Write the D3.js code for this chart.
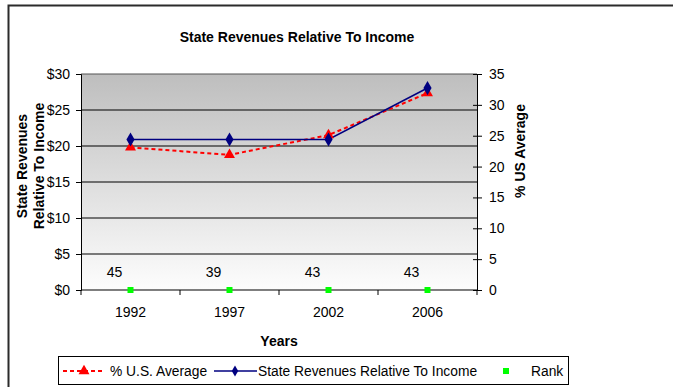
<!DOCTYPE html>
<html><head><meta charset="utf-8">
<script src="https://cdn.jsdelivr.net/npm/d3@7"></script>
<style>
html,body{margin:0;padding:0;background:#fff;}
svg{display:block;font-family:"Liberation Sans",Arial,sans-serif;}
</style></head>
<body><svg id="c" width="673" height="387"></svg>
<script>
const years = ["1992","1997","2002","2006"];
const stateRevenues = [20.9, 20.9, 20.9, 28.05];   // left axis ($)
const pctUSAverage = [23.1, 21.9, 25.1, 31.9];     // right axis
const rankPos = [0, 0, 0, 0];
const rankLabels = ["45","39","43","43"];
const leftTicks = [0,5,10,15,20,25,30];
const rightTicks = [0,5,10,15,20,25,30,35];

const svg = d3.select("#c");
const L = 81, R = 477, T = 74, B = 290;

// outer frame
svg.append("path").attr("d","M8.5,390 L8.5,5.5 L680,5.5")
  .attr("fill","none").attr("stroke","#2b2b2b").attr("stroke-width",2);

// gradient
const defs = svg.append("defs");
const g = defs.append("linearGradient").attr("id","bg").attr("x1",0).attr("y1",0).attr("x2",0).attr("y2",1);
g.append("stop").attr("offset","0%").attr("stop-color","#bebebe");
g.append("stop").attr("offset","100%").attr("stop-color","#fdfdfd");

const x = d3.scaleBand().domain(years).range([L,R]).paddingInner(0).paddingOuter(0);
const yL = d3.scaleLinear().domain([0,30]).range([B,T]);
const yR = d3.scaleLinear().domain([0,35]).range([B,T]);
const cx = d => x(d) + x.bandwidth()/2;

svg.append("rect").attr("x",L).attr("y",T).attr("width",R-L).attr("height",B-T).attr("fill","url(#bg)");

// gridlines
svg.append("g").selectAll("line").data(leftTicks.filter(v=>v>0)).join("line")
  .attr("x1",L).attr("x2",R).attr("y1",d=>yL(d)).attr("y2",d=>yL(d))
  .attr("stroke",d=>d===30?"#555":"#000").attr("stroke-width",1.2);

// left axis
const axL = svg.append("g").attr("transform",`translate(${L},0)`)
  .call(d3.axisLeft(yL).tickValues(leftTicks).tickFormat(d=>"$"+d).tickSize(5).tickPadding(6));
// right axis
const axR = svg.append("g").attr("transform",`translate(${R},0)`)
  .call(d3.axisRight(yR).tickValues(rightTicks).tickSize(5).tickPadding(7));
axR.selectAll(".tick line").attr("x1",-4);
// bottom axis
const axB = svg.append("g").attr("transform",`translate(0,${B})`)
  .call(d3.axisBottom(x).tickSize(0).tickPadding(17));
axB.selectAll(".domain").remove();
svg.append("g").selectAll("line").data(years.concat(["end"])).join("line")
  .attr("x1",(d,i)=>L+i*x.bandwidth()).attr("x2",(d,i)=>L+i*x.bandwidth())
  .attr("y1",B).attr("y2",B+5).attr("stroke","#000");
svg.append("line").attr("x1",L).attr("x2",R).attr("y1",B).attr("y2",B).attr("stroke","#000").attr("stroke-width",1.2);

[axL,axR,axB].forEach(a=>{
  a.selectAll("text").attr("font-size",14).attr("fill","#000").attr("font-family","Liberation Sans, Arial, sans-serif");
  a.selectAll(".domain").attr("stroke","#000");
  a.selectAll(".tick line").attr("stroke","#000");
});

// red dashed line (% U.S. Average)
svg.append("path").datum(pctUSAverage)
  .attr("d", d3.line().x((d,i)=>cx(years[i])).y(d=>yR(d)))
  .attr("fill","none").attr("stroke","#ff0000").attr("stroke-width",2).attr("stroke-dasharray","4,3");
// blue line
svg.append("path").datum(stateRevenues)
  .attr("d", d3.line().x((d,i)=>cx(years[i])).y(d=>yL(d)))
  .attr("fill","none").attr("stroke","#000080").attr("stroke-width",1.5);

const tri = d3.symbol().type(d3.symbolTriangle).size(52);
const dia = d3.symbol().type(d3.symbolDiamond).size(58);
const diaS = d3.symbol().type(d3.symbolDiamond).size(36);
svg.append("g").selectAll("path").data(pctUSAverage).join("path")
  .attr("d",tri).attr("transform",(d,i)=>`translate(${cx(years[i])},${yR(d)})`).attr("fill","#ff0000");
svg.append("g").selectAll("path").data(stateRevenues).join("path")
  .attr("d",dia).attr("transform",(d,i)=>`translate(${cx(years[i])},${yL(d)})`).attr("fill","#000080");

// rank markers and labels
svg.append("g").selectAll("rect").data(rankPos).join("rect")
  .attr("x",(d,i)=>cx(years[i])-3).attr("y",d=>yL(d)-3).attr("width",6).attr("height",6).attr("fill","#00ff00");
svg.append("g").selectAll("text").data(rankLabels).join("text")
  .attr("x",(d,i)=>cx(years[i])-16).attr("y",yL(0)-13).attr("text-anchor","middle")
  .attr("font-size",14).text(d=>d);

// titles
svg.append("text").attr("x",297).attr("y",42).attr("text-anchor","middle")
  .attr("font-size",14).attr("font-weight","bold").text("State Revenues Relative To Income");
svg.append("text").attr("x",279).attr("y",346).attr("text-anchor","middle")
  .attr("font-size",14).attr("font-weight","bold").text("Years");
const yt = svg.append("text").attr("transform","translate(27,166) rotate(-90)").attr("text-anchor","middle")
  .attr("font-size",14).attr("font-weight","bold");
yt.append("tspan").attr("x",0).attr("dy",0).text("State Revenues");
yt.append("tspan").attr("x",0).attr("dy",17).text("Relative To Income");
svg.append("text").attr("transform","translate(525,151) rotate(-90)").attr("text-anchor","middle")
  .attr("font-size",14).attr("font-weight","bold").text("% US Average");

// legend
const lg = svg.append("g");
lg.append("rect").attr("x",58.5).attr("y",356.5).attr("width",510).attr("height",28)
  .attr("fill","#fff").attr("stroke","#000");
const ly = 371;
lg.append("line").attr("x1",63).attr("x2",104).attr("y1",ly).attr("y2",ly)
  .attr("stroke","#ff0000").attr("stroke-width",2).attr("stroke-dasharray","4,3");
lg.append("path").attr("d",tri).attr("transform",`translate(84,${ly})`).attr("fill","#ff0000");
lg.append("text").attr("x",110).attr("y",ly+5).attr("font-size",13.8).text("% U.S. Average");
lg.append("line").attr("x1",214).attr("x2",257).attr("y1",ly).attr("y2",ly)
  .attr("stroke","#000080").attr("stroke-width",1.5);
lg.append("path").attr("d",diaS).attr("transform",`translate(235,${ly})`).attr("fill","#000080");
lg.append("text").attr("x",258).attr("y",ly+5).attr("font-size",13.8).text("State Revenues Relative To Income");
lg.append("rect").attr("x",503).attr("y",ly-3).attr("width",6).attr("height",6).attr("fill","#00ff00");
lg.append("text").attr("x",531).attr("y",ly+5).attr("font-size",13.8).text("Rank");
</script></body></html>
